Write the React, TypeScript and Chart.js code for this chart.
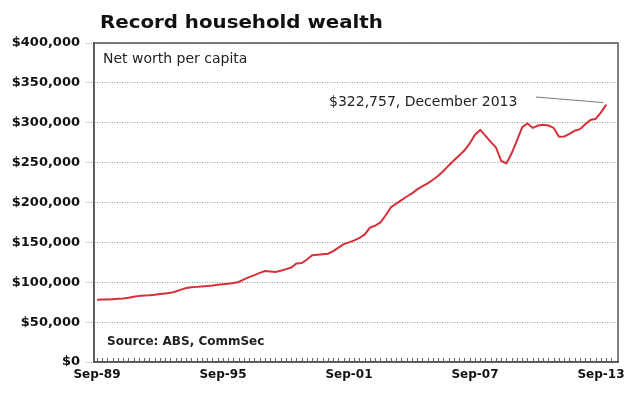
import React, { useEffect, useRef } from 'react';
import { Chart, registerables } from 'chart.js';

Chart.register(...registerables);

// Quarterly net worth per capita, Sep-89 (index 0) to Dec-13 (index 97)
const netWorth: number[] = [
  78000, 78300, 78500, 78800, 79200, 79600, 80500, 81800, 82900, 83300,
  83600, 84200, 85200, 86000, 86700, 88500, 90800, 92800, 93600, 94200,
  94800, 95300, 95900, 96800, 97600, 98200, 99000, 100300, 103500, 106500,
  109000, 111800, 114000, 113500, 113000, 114500, 116500, 118500, 123500, 124000,
  128500, 133800, 134500, 135200, 135800, 139000, 143500, 147800, 150000, 152500,
  155500, 160000, 168500, 171000, 175000, 184000, 194000, 198500, 203000, 207500,
  211500, 216500, 220500, 224000, 228500, 233500, 239500, 246500, 253000, 259000,
  265500, 274000, 285000, 291000, 283500, 276000, 269000, 252000, 249000, 262000,
  278000, 294500, 299000, 293500, 296500, 297500, 296500, 293500, 282500, 282800,
  286000, 290000, 292000, 298000, 303500, 305000, 313000, 322757,
];

const xTickPositions: number[] = [0, 24, 48, 72, 96];
const xTickLabels: string[] = ['Sep-89', 'Sep-95', 'Sep-01', 'Sep-07', 'Sep-13'];
const yMin = 0;
const yMax = 400000;
const yStep = 50000;

const titleText = 'Record household wealth';
const subtitleText = 'Net worth per capita';
const sourceText = 'Source: ABS, CommSec';
const annotationText = '$322,757, December 2013';

const FONT = '"DejaVu Sans", "Liberation Sans", Arial, sans-serif';

export default function App() {
  const ref = useRef<HTMLCanvasElement | null>(null);

  useEffect(() => {
    if (!ref.current) return;
    const points = netWorth.map((v, i) => ({ x: i, y: v }));

    const decorations = {
      id: 'decorations',
      afterDraw(chart: any) {
        const { ctx, chartArea, scales } = chart;
        const xs = scales.x;
        const ys = scales.y;
        ctx.save();
        // inner quarterly tick marks on bottom axis
        ctx.strokeStyle = '#666';
        ctx.lineWidth = 1;
        ctx.beginPath();
        for (let q = 0; q <= 99; q++) {
          const px = Math.round(xs.getPixelForValue(q)) + 0.5;
          if (px <= chartArea.left + 1 || px >= chartArea.right - 1) continue;
          ctx.moveTo(px, chartArea.bottom);
          ctx.lineTo(px, chartArea.bottom - 4);
        }
        ctx.stroke();
        // frame
        ctx.setLineDash([]);
        ctx.strokeStyle = '#555';
        ctx.lineWidth = 1.5;
        ctx.strokeRect(chartArea.left, chartArea.top, chartArea.right - chartArea.left, chartArea.bottom - chartArea.top);
        // title (slightly widened to match reference proportions)
        ctx.fillStyle = '#111';
        ctx.textAlign = 'left';
        ctx.textBaseline = 'alphabetic';
        ctx.font = `bold 18px ${FONT}`;
        ctx.save();
        ctx.translate(100, 28);
        ctx.scale(1.1, 1);
        ctx.fillText(titleText, 0, 0);
        ctx.restore();
        // subtitle
        ctx.font = `14px ${FONT}`;
        ctx.fillStyle = '#222';
        ctx.fillText(subtitleText, 103, 63);
        // source
        ctx.font = `bold 12px ${FONT}`;
        ctx.fillStyle = '#222';
        ctx.fillText(sourceText, 107, 345);
        // annotation
        const last = netWorth.length - 1;
        const ex = xs.getPixelForValue(last) - 3;
        const ey = ys.getPixelForValue(netWorth[last]) - 2;
        ctx.font = `14px ${FONT}`;
        ctx.fillStyle = '#222';
        ctx.fillText(annotationText, 329, 106);
        ctx.strokeStyle = '#777';
        ctx.lineWidth = 1;
        ctx.beginPath();
        ctx.moveTo(536, 97);
        ctx.lineTo(ex, ey);
        ctx.stroke();
        ctx.restore();
      },
    };

    const chart = new Chart(ref.current, {
      type: 'line',
      data: {
        datasets: [
          {
            data: points,
            borderColor: '#d6303a',
            borderWidth: 2,
            pointRadius: 0,
            tension: 0,
            fill: false,
          },
        ],
      },
      options: {
        animation: false,
        responsive: false,
        maintainAspectRatio: false,
        layout: { padding: { top: 43, right: 25, left: 0, bottom: 0 } },
        plugins: {
          legend: { display: false },
          title: { display: false },
          tooltip: { enabled: false },
        },
        scales: {
          x: {
            type: 'linear',
            min: -0.57,
            max: 99.24,
            grid: { display: false, drawTicks: false },
            border: { display: true, color: '#555', width: 1.5 },
            afterBuildTicks(scale: any) {
              scale.ticks = xTickPositions.map((v) => ({ value: v }));
            },
            afterFit(scale: any) {
              scale.height = 34;
            },
            ticks: {
              autoSkip: false,
              maxRotation: 0,
              padding: 6,
              color: '#111',
              font: { family: FONT, size: 12, weight: 'bold' },
              callback: (value: any) => {
                const idx = xTickPositions.indexOf(Number(value));
                return idx >= 0 ? xTickLabels[idx] : '';
              },
            },
          },
          y: {
            min: yMin,
            max: yMax,
            grid: {
              color: '#9a9a9a',
              lineWidth: 1,
              tickBorderDash: [1, 1.5],
              tickLength: 8,
              drawTicks: true,
            } as any,
            border: { display: true, color: '#555', width: 1.5, dash: [1, 1.5] },
            afterFit(scale: any) {
              scale.width = 94;
            },
            ticks: {
              stepSize: yStep,
              padding: 6,
              color: '#111',
              font: { family: FONT, size: 13, weight: 'bold' },
              callback: (value: any) => '$' + Number(value).toLocaleString('en-US'),
            },
          },
        },
      },
      plugins: [decorations],
    } as any);

    return () => chart.destroy();
  }, []);

  return (
    <div style={{ position: 'absolute', left: 0, top: 0, width: 643, height: 396, background: '#fff' }}>
      <canvas ref={ref} width={643} height={396} style={{ display: 'block' }} />
    </div>
  );
}
